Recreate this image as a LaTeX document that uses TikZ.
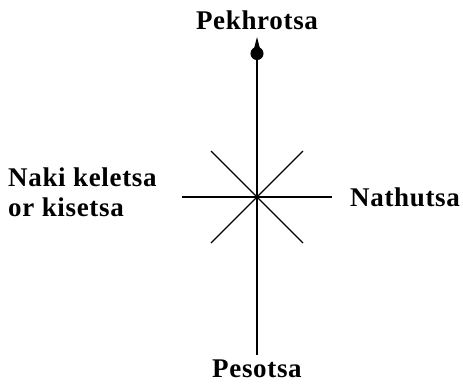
\documentclass[tikz,border=0pt]{standalone}
\usepackage{fontspec}
\setmainfont{Liberation Serif}
\usepackage{tikz}
\usetikzlibrary{arrows.meta,positioning}

\begin{document}
\begin{tikzpicture}[x=1pt,y=-1pt,
    dirtext/.style={font=\bfseries\fontsize{27}{30}\selectfont\addfontfeatures{LetterSpace=2.5}, inner sep=0pt},
    ray/.style={line width=1.1pt}]
  \useasboundingbox (0,0) rectangle (463,384);

  % centre and ends of the rays
  \coordinate (c) at (257,197);
  \coordinate (n) at (257,37);
  \coordinate (s) at (257,355);
  \coordinate (w) at (182,197);
  \coordinate (e) at (332,197);
  \coordinate (ne) at (303,151);
  \coordinate (nw) at (211,151);
  \coordinate (se) at (303,243);
  \coordinate (sw) at (211,243);

  \node[dirtext] (pekhrotsa) at (257,20) {Pekhrotsa};
  \node[dirtext] (pesotsa) at (257,369) {Pesotsa};
  \node[dirtext, anchor=west] (nathutsa) at (350,197) {Nathutsa};
  \node[dirtext, anchor=west, align=left] (naki) at (8,192) {Naki keletsa\\or kisetsa};

  \draw[ray, -{Circle[length=13pt,width=13pt,sep=-10pt] Triangle[length=20pt,width=10pt]}] (s) -- (n);
  \draw[ray] (w) -- (e);
  \draw[ray] (nw) -- (se);
  \draw[ray] (ne) -- (sw);
\end{tikzpicture}
\end{document}
